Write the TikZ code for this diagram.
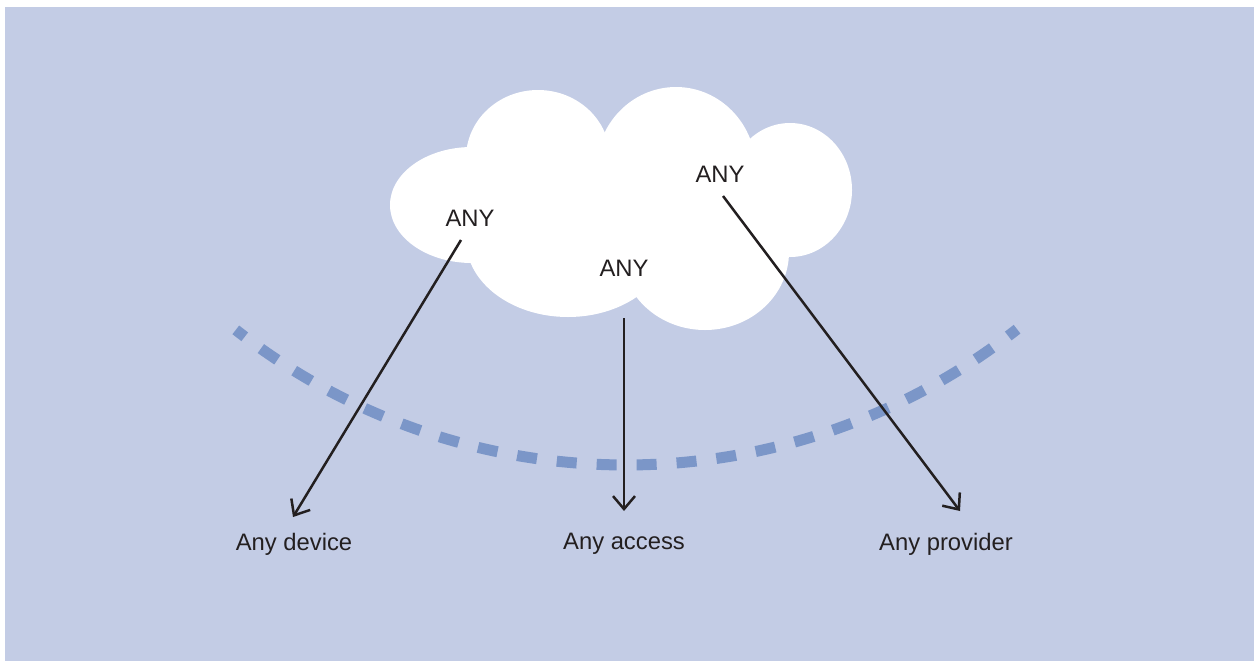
\documentclass[tikz,border=0pt]{standalone}
\usepackage{fontspec}
\setmainfont{Liberation Sans}
\usetikzlibrary{arrows.meta}
\definecolor{panel}{HTML}{C3CCE5}
\definecolor{dashblue}{HTML}{7B96C8}
\definecolor{ink}{HTML}{231F20}
\tikzset{
  lbl/.style={text=ink, font=\fontsize{23.8}{28}\selectfont, inner sep=0pt},
  link/.style={draw=ink, line width=2.5pt,
    -{Straight Barb[length=13pt, width=22pt, line width=2.5pt]}},
  lobe/.style={fill=white, draw=none},
  boundary/.style={draw=dashblue, line width=11pt, line cap=butt,
    dash pattern=on 20pt off 20pt, dash phase=8.7pt}
}
\begin{document}
\begin{tikzpicture}[x=1pt, y=-1pt]
  % canvas and panel
  \fill[white] (0,0) rectangle (1255,662);
  \useasboundingbox (0,0) rectangle (1255,662);
  \fill[panel] (5,7) rectangle (1254,661);

  % cloud built from overlapping lobes
  \fill[lobe] (472,205) ellipse[x radius=82, y radius=58];
  \fill[lobe] (538,158) ellipse[x radius=72, y radius=68];
  \fill[lobe] (676,170) ellipse[x radius=80, y radius=83];
  \fill[lobe] (790,190) ellipse[x radius=62, y radius=67];
  \fill[lobe] (705,252) ellipse[x radius=84, y radius=78];
  \fill[lobe] (568,240) ellipse[x radius=102, y radius=77];
  \fill[lobe] (630,215) ellipse[x radius=150, y radius=70];

  % boundary arc
  \draw[boundary] plot[domain=128.2:51.7, samples=120]
    ({626+631*cos(\x)}, {-166+631*sin(\x)});

  % labels inside the cloud
  \node[lbl] (any1) at (470,218) {ANY};
  \node[lbl] (any2) at (624,268) {ANY};
  \node[lbl] (any3) at (720,174) {ANY};

  % labels below
  \node[lbl] (device)   at (294,544) {Any device};
  \node[lbl] (access)   at (624,544) {Any access};
  \node[lbl] (provider) at (946,544) {Any provider};

  % arrow endpoints
  \coordinate (s1) at (461,240);
  \coordinate (e1) at (293,517);
  \coordinate (s2) at (624,318);
  \coordinate (e2) at (624,511);
  \coordinate (s3) at (723,196);
  \coordinate (e3) at (960,511);

  \draw[link] (s1) -- (e1);
  \draw[link] (s2) -- (e2);
  \draw[link] (s3) -- (e3);
\end{tikzpicture}
\end{document}
